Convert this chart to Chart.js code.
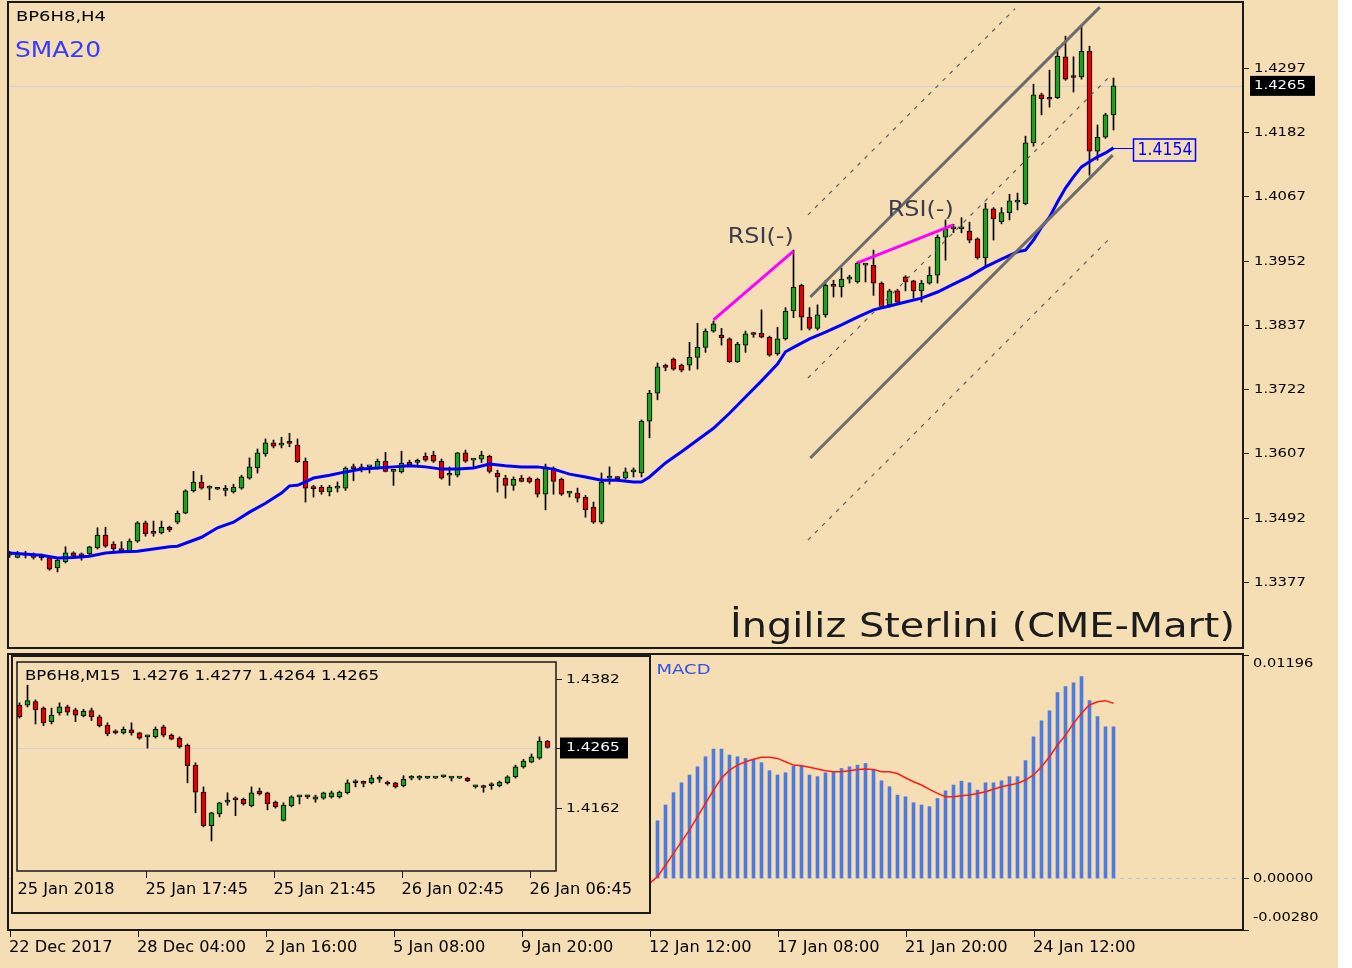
<!DOCTYPE html>
<html><head><meta charset="utf-8">
<script src="https://cdn.jsdelivr.net/npm/chart.js@4.4.1/dist/chart.umd.min.js"></script>
<style>
html,body{margin:0;padding:0;background:#ffffff;}
#wrap{position:relative;width:1352px;height:968px;background:#ffffff;overflow:hidden;}
#bg{position:absolute;left:0;top:0;width:1338px;height:968px;background:#f5deb3;}
canvas{position:absolute;left:0;top:0;}
</style></head><body>
<div id="wrap">
<div id="bg"></div>
<canvas id="cMacd" width="1352" height="968"></canvas>
<canvas id="cInset" width="1352" height="968"></canvas>
<canvas id="cMain" width="1352" height="968"></canvas>
</div>
<script>
// ---------------- DATA: main H4 chart (BP6H8,H4) ----------------
const openP = [1.3427,1.3421,1.3425,1.3425,1.3423,1.3420,1.3402,1.3413,1.3429,1.3425,
1.3427,1.3438,1.3461,1.3445,1.3434,1.3432,1.3450,1.3483,1.3465,1.3465,
1.3475,1.3484,1.3500,1.3540,1.3556,1.3545,1.3543,1.3541,1.3538,1.3545,
1.3563,1.3581,1.3606,1.3626,1.3622,1.3626,1.3622,1.3593,1.3545,1.3547,
1.3538,1.3545,1.3545,1.3581,1.3579,1.3583,1.3581,1.3593,1.3575,1.3574,
1.3591,1.3591,1.3602,1.3604,1.3593,1.3568,1.3568,1.3608,1.3595,1.3597,
1.3602,1.3572,1.3563,1.3550,1.3563,1.3563,1.3561,1.3534,1.3581,1.3561,
1.3536,1.3536,1.3529,1.3511,1.3484,1.3563,1.3563,1.3563,1.3574,1.3572,
1.3665,1.3715,1.3762,1.3776,1.3765,1.3765,1.3779,1.3797,1.3826,1.3819,
1.3812,1.3771,1.3801,1.3821,1.3822,1.3815,1.3785,1.3812,1.3862,1.3908,
1.3851,1.3831,1.3855,1.3907,1.3905,1.3919,1.3914,1.3944,1.3944,1.3912,
1.3873,1.3898,1.3923,1.3916,1.3898,1.3912,1.3926,1.3994,1.4009,1.4009,
1.4005,1.3991,1.3957,1.4045,1.4022,1.4038,1.4057,1.4054,1.4163,1.4249,
1.4242,1.4244,1.4317,1.4281,1.4281,1.4327,1.4148,1.4173,1.4213];
const highP = [1.3432,1.3432,1.3432,1.3429,1.3427,1.3421,1.3420,1.3440,1.3431,1.3429,
1.3441,1.3474,1.3475,1.3449,1.3449,1.3454,1.3485,1.3486,1.3486,1.3486,
1.3477,1.3504,1.3542,1.3575,1.3568,1.3549,1.3545,1.3550,1.3552,1.3568,
1.3599,1.3615,1.3633,1.3631,1.3636,1.3643,1.3633,1.3599,1.3550,1.3550,
1.3550,1.3556,1.3583,1.3588,1.3588,1.3584,1.3597,1.3609,1.3577,1.3611,
1.3595,1.3597,1.3608,1.3611,1.3597,1.3583,1.3609,1.3613,1.3597,1.3611,
1.3604,1.3577,1.3568,1.3565,1.3568,1.3565,1.3563,1.3588,1.3583,1.3563,
1.3538,1.3545,1.3532,1.3520,1.3572,1.3583,1.3566,1.3581,1.3581,1.3667,
1.3720,1.3769,1.3767,1.3778,1.3767,1.3806,1.3840,1.3830,1.3844,1.3831,
1.3814,1.3806,1.3826,1.3824,1.3864,1.3817,1.3833,1.3868,1.3971,1.3910,
1.3868,1.3873,1.3917,1.3917,1.3939,1.3926,1.3950,1.3946,1.3971,1.3914,
1.3901,1.3901,1.3925,1.3917,1.3917,1.3941,1.3998,1.4025,1.4017,1.4029,
1.4021,1.3993,1.4055,1.4047,1.4047,1.4071,1.4073,1.4175,1.4268,1.4252,
1.4293,1.4333,1.4354,1.4317,1.4372,1.4336,1.4195,1.4216,1.4279];
const lowP = [1.3421,1.3420,1.3420,1.3418,1.3416,1.3398,1.3395,1.3411,1.3422,1.3416,
1.3425,1.3436,1.3439,1.3432,1.3429,1.3431,1.3448,1.3459,1.3459,1.3463,
1.3467,1.3481,1.3499,1.3538,1.3543,1.3524,1.3542,1.3531,1.3536,1.3543,
1.3561,1.3572,1.3602,1.3617,1.3617,1.3619,1.3591,1.3520,1.3529,1.3534,
1.3531,1.3538,1.3541,1.3558,1.3574,1.3572,1.3579,1.3574,1.3550,1.3572,
1.3584,1.3586,1.3593,1.3591,1.3561,1.3550,1.3565,1.3591,1.3583,1.3591,
1.3572,1.3538,1.3527,1.3541,1.3556,1.3554,1.3529,1.3506,1.3534,1.3532,
1.3529,1.3520,1.3493,1.3482,1.3481,1.3552,1.3559,1.3561,1.3565,1.3565,
1.3635,1.3703,1.3755,1.3756,1.3753,1.3756,1.3758,1.3788,1.3824,1.3801,
1.3770,1.3770,1.3788,1.3815,1.3814,1.3781,1.3783,1.3810,1.3850,1.3828,
1.3828,1.3828,1.3851,1.3887,1.3887,1.3912,1.3912,1.3914,1.3890,1.3868,
1.3869,1.3876,1.3898,1.3885,1.3878,1.3910,1.3912,1.3953,1.4002,1.4002,
1.3984,1.3955,1.3941,1.3989,1.4018,1.4025,1.4043,1.4052,1.4157,1.4213,
1.4227,1.4242,1.4275,1.4254,1.4277,1.4105,1.4132,1.4171,1.4186];
const closeP = [1.3425,1.3428,1.3426,1.3421,1.3420,1.3400,1.3416,1.3429,1.3424,1.3424,
1.3440,1.3461,1.3441,1.3436,1.3433,1.3450,1.3483,1.3463,1.3464,1.3475,
1.3470,1.3500,1.3540,1.3556,1.3545,1.3545,1.3543,1.3541,1.3547,1.3565,
1.3583,1.3608,1.3626,1.3620,1.3622,1.3625,1.3592,1.3545,1.3544,1.3538,
1.3547,1.3545,1.3581,1.3580,1.3583,1.3583,1.3593,1.3575,1.3575,1.3590,
1.3586,1.3591,1.3595,1.3593,1.3563,1.3568,1.3608,1.3593,1.3595,1.3604,
1.3575,1.3565,1.3550,1.3561,1.3557,1.3556,1.3534,1.3583,1.3557,1.3534,
1.3536,1.3527,1.3506,1.3484,1.3556,1.3563,1.3562,1.3574,1.3574,1.3665,
1.3715,1.3762,1.3761,1.3758,1.3756,1.3779,1.3797,1.3826,1.3839,1.3814,
1.3771,1.3803,1.3821,1.3820,1.3815,1.3783,1.3812,1.3862,1.3905,1.3851,
1.3831,1.3855,1.3908,1.3906,1.3919,1.3919,1.3948,1.3944,1.3912,1.3869,
1.3898,1.3878,1.3914,1.3898,1.3912,1.3926,1.3994,1.4009,1.4010,1.4009,
1.3989,1.3957,1.4045,1.4027,1.4038,1.4059,1.4057,1.4163,1.4249,1.4242,
1.4241,1.4318,1.4277,1.4280,1.4327,1.4148,1.4173,1.4213,1.4265];

// SMA20 (bar index, value)
const smaIdx = [0,4,6,8,10,12,14,16,18,20,21,24,26,28,30,32,34,35,36,37,38,40,42,44,46,48,50,52,54,56,58,60,62,64,66,68,70,72,74,76,78,79,80,82,84,86,88,90,92,94,96,97,98,100,102,104,106,108,110,112,114,116,118,120,122,124,126,127,128,129,130,131,132,133,134,135,136,137,138];
const smaVal = [1.3429,1.3425,1.3420,1.3421,1.3423,1.3429,1.3431,1.3432,1.3436,1.3440,1.3441,1.3457,1.3474,1.3484,1.3502,1.3518,1.3536,1.3549,1.3550,1.3556,1.3563,1.3568,1.3574,1.3579,1.3581,1.3583,1.3585,1.3583,1.3579,1.3579,1.3581,1.3588,1.3585,1.3583,1.3583,1.3579,1.3570,1.3565,1.3559,1.3559,1.3556,1.3556,1.3565,1.3590,1.3610,1.3631,1.3652,1.3679,1.3708,1.3737,1.3767,1.3789,1.3797,1.3812,1.3824,1.3837,1.3851,1.3864,1.3871,1.3878,1.3885,1.3896,1.3910,1.3924,1.3941,1.3955,1.3968,1.3971,1.3989,1.4012,1.4030,1.4057,1.4082,1.4102,1.4120,1.4129,1.4138,1.4145,1.4154];

// price axis ticks
const priceTicks = [1.4297,1.4182,1.4067,1.3952,1.3837,1.3722,1.3607,1.3492,1.3377];
const lastPrice = 1.4265;

// trend channel lines (bar index, price)
const chanSolid = [[[100.1,1.3887],[136.3,1.4406]], [[100.1,1.3599],[137.9,1.4141]]];
const chanDash = [[[99.8,1.4034],[125.7,1.4403]], [[99.8,1.3742],[137.6,1.4283]], [[99.8,1.3452],[137.6,1.3993]]];
// RSI divergence lines and labels
const rsiLines = [[[88,1.3846],[98,1.3969]], [[106,1.3948],[118,1.4016]]];
const rsiLabelPos = [[93.9,1.3996],[113.9,1.4043]];
const rsiLabelText = 'RSI(-)';

// bottom time axis
const timeTickIdx = [0,16,32,48,64,80,96,112,128];
const timeTickLabels = ['22 Dec 2017','28 Dec 04:00','2 Jan 16:00','5 Jan 08:00','9 Jan 20:00','12 Jan 12:00','17 Jan 08:00','21 Jan 20:00','24 Jan 12:00'];

// ---------------- DATA: MACD ----------------
const macdStart = 81;
const macdHist = [0.00306,0.00391,0.00457,0.00510,0.00552,0.00596,0.00650,0.00691,0.00691,0.00659,
0.00650,0.00641,0.00636,0.00618,0.00575,0.00552,0.00564,0.00600,0.00600,0.00552,
0.00543,0.00564,0.00570,0.00587,0.00596,0.00605,0.00614,0.00578,0.00521,0.00489,
0.00444,0.00435,0.00403,0.00391,0.00382,0.00426,0.00467,0.00498,0.00519,0.00510,
0.00471,0.00510,0.00510,0.00521,0.00543,0.00543,0.00629,0.00757,0.00843,0.00897,
0.00994,0.01026,0.01047,0.01080,0.00951,0.00865,0.00811,0.00811];
const sigStart = 80;
const macdSignal = [-0.00030,0.00006,0.00068,0.00131,0.00194,0.00256,0.00328,0.00400,0.00471,0.00534,
0.00578,0.00605,0.00623,0.00636,0.00647,0.00647,0.00641,0.00623,0.00605,0.00602,
0.00593,0.00584,0.00575,0.00569,0.00569,0.00575,0.00582,0.00584,0.00582,0.00569,
0.00569,0.00560,0.00537,0.00516,0.00498,0.00475,0.00453,0.00435,0.00435,0.00441,
0.00444,0.00453,0.00462,0.00475,0.00489,0.00498,0.00507,0.00525,0.00552,0.00596,
0.00650,0.00713,0.00766,0.00829,0.00883,0.00928,0.00945,0.00951,0.00937];
const macdTicks = [0.01196,0.00000,-0.00280];

// ---------------- DATA: inset M15 chart ----------------
const insetO = [1.4337,1.4337,1.4343,1.4332,1.4309,1.4324,1.4334,1.4329,1.4319,1.4328,
1.4317,1.4303,1.4293,1.4290,1.4295,1.4290,1.4283,1.4283,1.4300,1.4286,
1.4281,1.4269,1.4235,1.4189,1.4132,1.4152,1.4172,1.4177,1.4177,1.4166,
1.4191,1.4188,1.4172,1.4141,1.4166,1.4181,1.4181,1.4177,1.4179,1.4181,
1.4181,1.4188,1.4205,1.4205,1.4205,1.4211,1.4206,1.4205,1.4200,1.4213,
1.4213,1.4213,1.4213,1.4215,1.4213,1.4213,1.4213,1.4198,1.4198,1.4200,
1.4200,1.4205,1.4215,1.4232,1.4240,1.4247,1.4276];
const insetH = [1.4341,1.4371,1.4346,1.4334,1.4332,1.4341,1.4337,1.4332,1.4330,1.4332,
1.4320,1.4307,1.4295,1.4300,1.4307,1.4291,1.4286,1.4300,1.4303,1.4288,
1.4283,1.4271,1.4239,1.4198,1.4155,1.4172,1.4188,1.4181,1.4179,1.4198,
1.4196,1.4189,1.4174,1.4171,1.4183,1.4183,1.4184,1.4184,1.4189,1.4191,
1.4191,1.4210,1.4210,1.4208,1.4218,1.4217,1.4208,1.4206,1.4217,1.4217,
1.4217,1.4215,1.4214,1.4218,1.4214,1.4214,1.4214,1.4201,1.4201,1.4205,
1.4208,1.4217,1.4235,1.4245,1.4254,1.4283,1.4277];
const insetL = [1.4315,1.4334,1.4305,1.4302,1.4305,1.4320,1.4320,1.4309,1.4317,1.4311,
1.4300,1.4285,1.4288,1.4288,1.4286,1.4279,1.4264,1.4281,1.4283,1.4278,
1.4264,1.4205,1.4154,1.4130,1.4106,1.4147,1.4167,1.4149,1.4167,1.4164,
1.4184,1.4159,1.4162,1.4140,1.4164,1.4169,1.4178,1.4172,1.4177,1.4179,
1.4179,1.4186,1.4198,1.4198,1.4203,1.4206,1.4201,1.4196,1.4198,1.4210,
1.4210,1.4212,1.4212,1.4214,1.4208,1.4212,1.4207,1.4196,1.4189,1.4194,
1.4198,1.4203,1.4213,1.4230,1.4239,1.4245,1.4264];
const insetC = [1.4317,1.4345,1.4329,1.4307,1.4320,1.4334,1.4325,1.4320,1.4327,1.4317,
1.4302,1.4288,1.4290,1.4296,1.4290,1.4281,1.4283,1.4296,1.4286,1.4279,
1.4266,1.4234,1.4189,1.4132,1.4154,1.4171,1.4173,1.4176,1.4169,1.4188,
1.4186,1.4169,1.4164,1.4167,1.4181,1.4181,1.4182,1.4181,1.4188,1.4188,
1.4189,1.4205,1.4205,1.4204,1.4213,1.4211,1.4203,1.4198,1.4211,1.4213,
1.4214,1.4213,1.4213,1.4215,1.4213,1.4213,1.4208,1.4198,1.4197,1.4200,
1.4206,1.4215,1.4232,1.4242,1.4249,1.4276,1.4265];
const insetTicks = [1.4382,1.4162];
const insetTimeIdx = [0,16,32,48,64];
const insetTimeLabels = ['25 Jan 2018','25 Jan 17:45','25 Jan 21:45','26 Jan 02:45','26 Jan 06:45'];
const insetTitle = 'BP6H8,M15  1.4276 1.4277 1.4264 1.4265';

// ---------------- helpers ----------------
const FONT = '"DejaVu Sans", "Noto Sans", sans-serif';
const GREEN = '#1f9e1f', RED = '#e00000', WHEAT = '#f5deb3';

function drawText(ctx, s, x, y, o) {
  o = o || {};
  ctx.save();
  ctx.font = (o.weight || 'normal') + ' ' + o.size + 'px ' + FONT;
  ctx.fillStyle = o.color || '#000';
  ctx.textBaseline = o.baseline || 'middle';
  ctx.textAlign = o.align || 'left';
  const m = ctx.measureText(s).width;
  const sx = o.w ? o.w / m : (o.sx || 1);
  ctx.translate(x, y);
  ctx.scale(sx, 1);
  ctx.fillText(s, 0, 0);
  ctx.restore();
}
function hline(ctx, x1, x2, y) { ctx.beginPath(); ctx.moveTo(x1, y); ctx.lineTo(x2, y); ctx.stroke(); }
function vline(ctx, x, y1, y2) { ctx.beginPath(); ctx.moveTo(x, y1); ctx.lineTo(x, y2); ctx.stroke(); }

function candleDatasets(o, h, l, c) {
  const idx = o.map((_, i) => i);
  return [
    { type: 'bar', data: idx.map(i => ({ x: i, y: [l[i], h[i]] })), backgroundColor: '#000', borderWidth: 0,
      barThickness: 1, maxBarThickness: 1, grouped: false, order: 20 },
    { type: 'bar', data: idx.map(i => ({ x: i, y: [Math.min(o[i], c[i]), Math.max(o[i], c[i])] })),
      backgroundColor: idx.map(i => c[i] >= o[i] ? GREEN : RED), borderColor: '#000', borderWidth: 1,
      borderSkipped: false, barThickness: 5, maxBarThickness: 5, minBarLength: 2, grouped: false, order: 10 }
  ];
}
function segDataset(seg, color, width, dash, order) {
  return { type: 'line', data: seg.map(p => ({ x: p[0], y: p[1] })), borderColor: color, borderWidth: width,
    borderDash: dash || [], pointRadius: 0, tension: 0, order: order, borderCapStyle: 'butt' };
}
const baseOpts = {
  responsive: false, animation: false, devicePixelRatio: 1, events: [],
  plugins: { legend: { display: false }, tooltip: { enabled: false } }
};

// ---------------- MACD chart (bottom panel + time axis) ----------------
const macdPlugin = {
  id: 'macdDeco',
  beforeDatasetsDraw(chart) {
    const { ctx, chartArea: a, scales: { y } } = chart;
    ctx.save();
    ctx.strokeStyle = '#c2c8d6'; ctx.lineWidth = 1; ctx.setLineDash([4, 4]);
    hline(ctx, a.left, a.right, Math.round(y.getPixelForValue(0)) + 0.5);
    ctx.restore();
  },
  afterDatasetsDraw(chart) {
    const { ctx, chartArea: a, scales: { x, y } } = chart;
    ctx.save();
    ctx.strokeStyle = '#1a1a1a'; ctx.lineWidth = 2;
    ctx.strokeRect(a.left, a.top - 1, a.right - a.left, a.bottom - a.top + 1);
    ctx.lineWidth = 1;
    macdTicks.forEach(v => {
      const py = Math.round(y.getPixelForValue(v)) + 0.5;
      hline(ctx, a.right, a.right + 6, py);
      const ly = Math.min(Math.max(py, a.top + 9), a.bottom - 12);
      drawText(ctx, v.toFixed(5), a.right + 10, ly, { size: 13, sx: 1.12 });
    });
    drawText(ctx, 'MACD', x.getPixelForValue(macdStart) - 1, a.top + 15, { size: 14, w: 54, color: '#3452e6' });
    // time axis
    timeTickIdx.forEach((t, k) => {
      const px = Math.round(x.getPixelForValue(t)) + 0.5;
      vline(ctx, px, a.bottom, a.bottom + 7);
      drawText(ctx, timeTickLabels[k], px - 1.5, a.bottom + 18, { size: 15, sx: 1.08 });
    });
    ctx.restore();
  }
};
new Chart(document.getElementById('cMacd'), {
  type: 'bar',
  data: { datasets: [
    { type: 'bar', data: macdHist.map((v, k) => ({ x: macdStart + k, y: v })), backgroundColor: '#4c7be3',
      borderWidth: 0, barThickness: 3, maxBarThickness: 3, grouped: false, order: 5 },
    { type: 'line', data: macdSignal.map((v, k) => ({ x: sigStart + k, y: v })), borderColor: '#ff1a1a',
      borderWidth: 1.5, pointRadius: 0, tension: 0, order: 1 }
  ] },
  options: Object.assign({}, baseOpts, {
    layout: { padding: { left: 8, top: 655, right: 109, bottom: 38 } },
    scales: {
      x: { type: 'linear', display: false, offset: false, min: -0.1875, max: 154.1875 },
      y: { type: 'linear', display: false, min: -0.0028, max: 0.01196 }
    }
  }),
  plugins: [macdPlugin]
});

// ---------------- inset M15 chart ----------------
const insetPlugin = {
  id: 'insetDeco',
  beforeDraw(chart) {
    const ctx = chart.ctx;
    ctx.save();
    ctx.fillStyle = WHEAT; ctx.fillRect(12, 656, 638, 257);
    ctx.restore();
  },
  beforeDatasetsDraw(chart) {
    const { ctx, chartArea: a, scales: { y } } = chart;
    ctx.save(); ctx.strokeStyle = '#d2d2d2'; ctx.lineWidth = 1;
    hline(ctx, a.left, a.right, Math.round(y.getPixelForValue(insetC[insetC.length - 1])) + 0.5);
    ctx.restore();
  },
  afterDatasetsDraw(chart) {
    const { ctx, chartArea: a, scales: { x, y } } = chart;
    ctx.save();
    ctx.strokeStyle = '#1a1a1a'; ctx.lineWidth = 2;
    ctx.strokeRect(12, 656, 638, 257);
    ctx.lineWidth = 1.5;
    ctx.strokeRect(a.left, a.top, a.right - a.left, a.bottom - a.top);
    ctx.lineWidth = 1;
    insetTicks.forEach(v => {
      const py = Math.round(y.getPixelForValue(v)) + 0.5;
      hline(ctx, a.right, a.right + 6, py);
      drawText(ctx, v.toFixed(4), a.right + 10, py, { size: 13, sx: 1.18 });
    });
    const last = insetC[insetC.length - 1];
    const ly = y.getPixelForValue(last);
    hline(ctx, a.right, a.right + 6, Math.round(ly) + 0.5);
    ctx.fillStyle = '#000'; ctx.fillRect(a.right + 4, ly - 10, 68, 21);
    drawText(ctx, last.toFixed(4), a.right + 10, ly + 0.5, { size: 13, sx: 1.18, color: '#fff' });
    drawText(ctx, insetTitle, a.left + 8, a.top + 14, { size: 14, w: 354 });
    insetTimeIdx.forEach((t, k) => {
      const px = Math.round(x.getPixelForValue(t)) - 1.5;
      if (k > 0) vline(ctx, px, a.bottom, a.bottom + 7);
      drawText(ctx, insetTimeLabels[k], Math.max(px - 1, 15), a.bottom + 19, { size: 15, sx: 1.08 });
    });
    ctx.restore();
  }
};
new Chart(document.getElementById('cInset'), {
  type: 'bar',
  data: { datasets: candleDatasets(insetO, insetH, insetL, insetC) },
  options: Object.assign({}, baseOpts, {
    layout: { padding: { left: 17, top: 662, right: 796, bottom: 97 } },
    scales: {
      x: { type: 'linear', display: false, offset: false, min: -0.3125, max: 67.0625 },
      y: { type: 'linear', display: false, min: 1.4055, max: 1.44104 }
    }
  }),
  plugins: [insetPlugin]
});

// ---------------- main H4 chart ----------------
const mainPlugin = {
  id: 'mainDeco',
  beforeDatasetsDraw(chart) {
    const { ctx, chartArea: a, scales: { y } } = chart;
    ctx.save(); ctx.strokeStyle = '#d2d2d2'; ctx.lineWidth = 1;
    hline(ctx, a.left, a.right, Math.round(y.getPixelForValue(lastPrice)) + 0.5);
    ctx.restore();
  },
  afterDatasetsDraw(chart) {
    const { ctx, chartArea: a, scales: { x, y } } = chart;
    ctx.save();
    // RSI labels
    rsiLabelPos.forEach(p => {
      drawText(ctx, rsiLabelText, x.getPixelForValue(p[0]), y.getPixelForValue(p[1]) + 1, { size: 21, w: 66, align: 'center', color: '#3d3d4a' });
    });
    // titles
    drawText(ctx, 'BP6H8,H4', a.left + 8, a.top + 15, { size: 14, w: 90 });
    drawText(ctx, 'SMA20', a.left + 7, a.top + 50, { size: 21, w: 86, color: '#3a3aff' });
    drawText(ctx, 'İngiliz Sterlini (CME-Mart)', a.right - 8, a.bottom - 11, { size: 34, w: 505, align: 'right', baseline: 'alphabetic', color: '#1c1c1c' });
    // frame
    ctx.strokeStyle = '#1a1a1a'; ctx.lineWidth = 2;
    ctx.strokeRect(a.left, a.top, a.right - a.left, a.bottom - a.top);
    // price axis
    ctx.lineWidth = 1;
    priceTicks.forEach(v => {
      const py = Math.round(y.getPixelForValue(v)) + 0.5;
      hline(ctx, a.right, a.right + 6, py);
      drawText(ctx, v.toFixed(4), a.right + 11, py, { size: 13, sx: 1.14 });
    });
    const ly = y.getPixelForValue(lastPrice);
    ctx.fillStyle = '#000'; ctx.fillRect(a.right + 7, ly - 10, 65, 20);
    drawText(ctx, lastPrice.toFixed(4), a.right + 11, ly, { size: 13, sx: 1.14, color: '#fff' });
    // SMA value box
    const n = smaVal.length - 1;
    const sx0 = x.getPixelForValue(smaIdx[n]), sy = Math.round(y.getPixelForValue(smaVal[n])) + 0.5;
    ctx.strokeStyle = '#0000ff'; ctx.lineWidth = 1;
    hline(ctx, sx0, sx0 + 20, sy);
    ctx.lineWidth = 1.5;
    ctx.strokeRect(sx0 + 20, sy - 9.5, 62, 22);
    drawText(ctx, smaVal[n].toFixed(4), sx0 + 24, sy + 1.5, { size: 18, w: 55, color: '#0000ff' });
    ctx.restore();
  }
};
const mainSets = candleDatasets(openP, highP, lowP, closeP);
mainSets.push({ type: 'line', data: smaIdx.map((v, k) => ({ x: v, y: smaVal[k] })), borderColor: '#0000ff',
  borderWidth: 3, pointRadius: 0, tension: 0, order: 5 });
chanDash.forEach(s => mainSets.push(segDataset(s, '#5e5e5e', 1.2, [4, 6], 4)));
chanSolid.forEach(s => mainSets.push(segDataset(s, '#6c6c6c', 3, [], 3)));
rsiLines.forEach(s => mainSets.push(segDataset(s, '#ff00ff', 3, [], 2)));
new Chart(document.getElementById('cMain'), {
  type: 'bar',
  data: { datasets: mainSets },
  options: Object.assign({}, baseOpts, {
    layout: { padding: { left: 8, top: 2, right: 109, bottom: 320 } },
    scales: {
      x: { type: 'linear', display: false, offset: false, min: -0.1875, max: 154.1875 },
      y: { type: 'linear', display: false, min: 1.32588, max: 1.44151 }
    }
  }),
  plugins: [mainPlugin]
});
</script>
</body></html>
